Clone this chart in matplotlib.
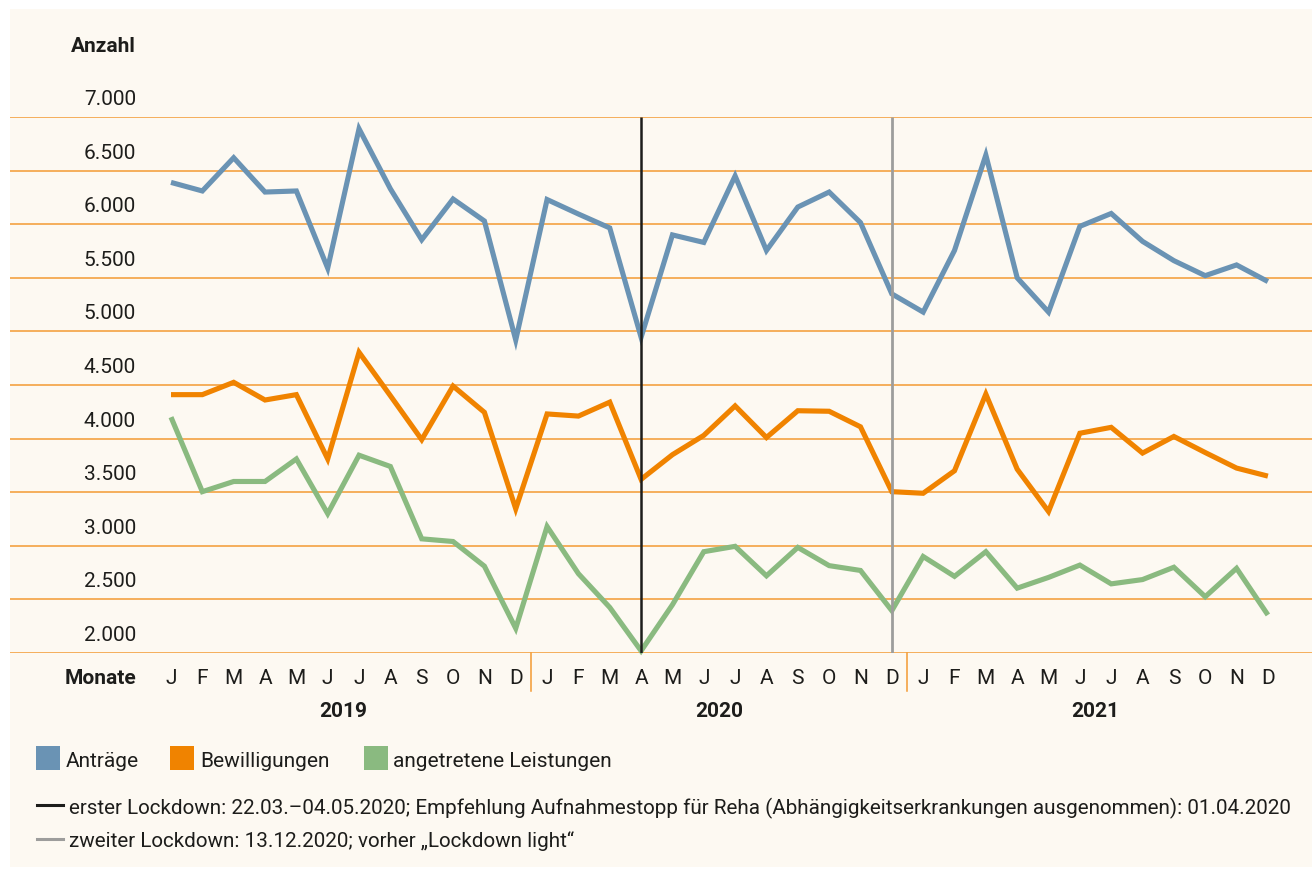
import matplotlib
matplotlib.use("Agg")
import matplotlib.pyplot as plt
from matplotlib.patches import Rectangle
from matplotlib.lines import Line2D

# ---------------- data ----------------
months = ["J", "F", "M", "A", "M", "J", "J", "A", "S", "O", "N", "D"] * 3
years = ["2019", "2020", "2021"]
antraege = [6390, 6310, 6620, 6300, 6310, 5590, 6890, 6330, 5855,
            6235, 6030, 4920, 6230, 6095, 5965, 4945, 5900, 5830,
            6450, 5755, 6160, 6300, 6015, 5350, 5180, 5755, 6645,
            5500, 5180, 5980, 6100, 5840, 5660, 5520, 5620, 5465]
bewilligungen = [4410, 4410, 4525, 4360, 4410, 3810, 4805, 4400, 3990,
                 4490, 4245, 3345, 4230, 4210, 4340, 3620, 3850, 4030,
                 4305, 4010, 4260, 4255, 4110, 3505, 3490, 3700, 4415,
                 3715, 3320, 4050, 4105, 3865, 4020, 3870, 3725, 3650]
angetreten = [4200, 3505, 3600, 3600, 3810, 3300, 3845, 3740, 3065,
              3040, 2810, 2230, 3180, 2740, 2425, 2020, 2450, 2945,
              2995, 2720, 2985, 2815, 2770, 2395, 2900, 2715, 2945,
              2605, 2705, 2820, 2645, 2685, 2800, 2525, 2790, 2355]
series_names = ["Anträge", "Bewilligungen", "angetretene Leistungen"]
yticks = [2000, 2500, 3000, 3500, 4000, 4500, 5000, 5500, 6000, 6500, 7000]
ytick_labels = ["2.000", "2.500", "3.000", "3.500", "4.000", "4.500",
                "5.000", "5.500", "6.000", "6.500", "7.000"]
lockdown1_idx = 15   # April 2020
lockdown2_idx = 23   # December 2020
note1 = "erster Lockdown: 22.03.–04.05.2020; Empfehlung Aufnahmestopp für Reha (Abhängigkeitserkrankungen ausgenommen): 01.04.2020"
note2 = "zweiter Lockdown: 13.12.2020; vorher „Lockdown light“"

# ---------------- style ----------------
W, H = 1312, 870
C_BLUE = "#6a93b4"
C_ORANGE = "#f08300"
C_GREEN = "#8aba80"
C_GRID = "#f39a33"
C_BG = "#fdf9f2"
C_TEXT = "#1d1d1b"
FONT = "Roboto"
FS = 15
FS_NOTE = 14.85

plt.rcParams["font.family"] = [FONT, "DejaVu Sans"]

fig = plt.figure(figsize=(W / 100, H / 100), dpi=100)
fig.patch.set_facecolor("white")

def fx(px):
    return px / W

def fy(py):
    return 1 - py / H

fig.add_artist(Rectangle((fx(10), fy(868)), fx(1302), (868 - 10) / H,
                         transform=fig.transFigure, facecolor=C_BG,
                         edgecolor="none", zorder=0))

x0_px, step_px = 171.0, 31.34
top_px, bot_px = 118.0, 654.0
ax = fig.add_axes([fx(10), fy(bot_px), fx(1312 - 10), (bot_px - top_px) / H])
ax.set_xlim((10 - x0_px) / step_px, (1312 - x0_px) / step_px)
ax.set_ylim(yticks[0], yticks[-1])
ax.axis("off")

ax_h = bot_px - top_px
def ay(py):
    return (bot_px - py) / ax_h

# gridlines
for v in yticks:
    ax.axhline(v, color=C_GRID, lw=1.1, zorder=1)

x = list(range(len(months)))
for vals, col in zip([antraege, bewilligungen, angetreten], [C_BLUE, C_ORANGE, C_GREEN]):
    ax.plot(x, vals, color=col, lw=3.7, solid_capstyle="butt",
            solid_joinstyle="miter", zorder=3, clip_on=False)

# lockdown lines
ax.plot([lockdown1_idx] * 2, [yticks[0], yticks[-1]], color="#1d1d1b", lw=1.8, zorder=4,
        solid_capstyle="butt")
ax.plot([lockdown2_idx] * 2, [yticks[0], yticks[-1]], color="#9d9d9c", lw=2.0, zorder=4,
        solid_capstyle="butt")

# y labels
xlab = (136 - x0_px) / step_px
for v, lab in zip(yticks, ytick_labels):
    ax.annotate(lab, xy=(xlab, v), xytext=(0, 13 * 0.72), textcoords="offset points",
                ha="right", va="baseline", fontsize=FS, color=C_TEXT)

# month labels
xt = ax.get_xaxis_transform()
for i, m in enumerate(months):
    ax.text(i, ay(684.3), m, transform=xt, ha="center", va="baseline",
            fontsize=FS, color=C_TEXT)

# year separators
for b in [11.5, 23.5]:
    ax.plot([b, b], [0, ay(692)], transform=xt, color=C_GRID, lw=1.1, clip_on=False)

# year labels
for k, yr in enumerate(years):
    ax.text(k * 12 + 5.5, ay(716.7), yr, transform=xt, ha="center", va="baseline",
            fontsize=FS, fontweight="bold", color=C_TEXT)

fig.text(fx(136), fy(51.7), "Anzahl", ha="right", va="baseline", fontsize=FS,
         fontweight="bold", color=C_TEXT)
fig.text(fx(136), fy(684.3), "Monate", ha="right", va="baseline", fontsize=FS,
         fontweight="bold", color=C_TEXT)

# legend (colour squares)
for (sx, tx), col, name in zip([(36, 66), (170, 200), (364, 393)],
                               [C_BLUE, C_ORANGE, C_GREEN], series_names):
    fig.add_artist(Rectangle((fx(sx), fy(771)), fx(24), 24 / H, transform=fig.transFigure,
                             facecolor=col, edgecolor="none"))
    fig.text(fx(tx), fy(766.7), name, ha="left", va="baseline", fontsize=FS, color=C_TEXT)

# legend (lines)
for yy, base, col, txt in [(806, 814, "#1d1d1b", note1), (840, 847.3, "#9d9d9c", note2)]:
    fig.add_artist(Line2D([fx(37), fx(63)], [fy(yy), fy(yy)], transform=fig.transFigure,
                          color=col, lw=2.2))
    fig.text(fx(69), fy(base), txt, ha="left", va="baseline", fontsize=FS_NOTE, color=C_TEXT)

fig.savefig("out.png", dpi=100, facecolor=fig.get_facecolor())
